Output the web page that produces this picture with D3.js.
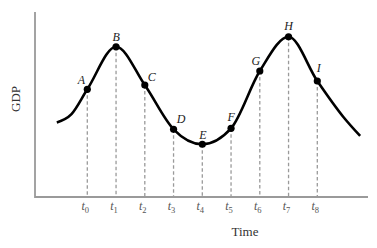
<!DOCTYPE html>
<html><head><meta charset="utf-8">
<script src="https://cdn.jsdelivr.net/npm/d3@7"></script>
<style>body{margin:0;background:#fff}svg{display:block}</style>
</head><body>
<svg id="c" width="377" height="248"></svg>
<script>
// Data
const pointLabels = ["A","B","C","D","E","F","G","H","I"];
const pointTimes  = [0,1,2,3,4,5,6,7,8];
const pointGDP    = [58.2,81.2,60.5,36.6,28.5,37.1,68.1,86.6,62.7];
const tickLabels  = ["0","1","2","3","4","5","6","7","8"];
// extra samples (time, GDP)
const curveTimes  = [-1.06,-0.55,0,1,2,3,4,5,6,7,8,8.9,9.49];
const curveGDP    = [40.3,44.8,58.2,81.2,60.5,36.6,28.5,37.1,68.1,86.6,62.7,43.4,33];

const svg = d3.select("#c");
const x = d3.scaleLinear().domain([0,8]).range([87.3,317.3]);
const y = d3.scaleLinear().domain([0,100]).range([197,12]);
const x0 = 35, x1 = 368;
const font = "'Liberation Serif','Times New Roman',serif";
const axisCol = "#9a9a9a";

// dashed drop lines
svg.selectAll("line.drop").data(pointTimes).enter().append("line")
  .attr("x1", d=>x(d)).attr("x2", d=>x(d))
  .attr("y1", (d,i)=>y(pointGDP[i])).attr("y2", y(0))
  .attr("stroke", axisCol).attr("stroke-width",1.3).attr("stroke-dasharray","3.5,2.5");

// axes
svg.append("path").attr("d", `M${x0},${y(100)}V${y(0)}H${x1}`)
  .attr("fill","none").attr("stroke",axisCol).attr("stroke-width",1.8);

// curve
const pts = curveTimes.map((t,i)=>[t,curveGDP[i]]);
svg.append("path").datum(pts)
  .attr("d", d3.line().x(d=>x(d[0])).y(d=>y(d[1])).curve(d3.curveMonotoneX))
  .attr("fill","none").attr("stroke","#000").attr("stroke-width",2.6);

// points
svg.selectAll("circle").data(pointTimes).enter().append("circle")
  .attr("cx", d=>x(d)).attr("cy",(d,i)=>y(pointGDP[i])).attr("r",3.6).attr("fill","#000");

// point labels
const off = {A:[-6,-5],B:[0,-6],C:[7,-4],D:[7.5,-6],E:[0.5,-5],F:[0,-7],G:[-4,-6],H:[0,-7],I:[1.5,-9]};
svg.selectAll("text.pl").data(pointLabels).enter().append("text")
  .attr("x",(d,i)=>x(pointTimes[i])+off[d][0]).attr("y",(d,i)=>y(pointGDP[i])+off[d][1])
  .attr("text-anchor","middle").attr("font-family",font).attr("font-style","italic")
  .attr("font-size",12).attr("fill","#222").text(d=>d);

// tick labels
const tl = svg.selectAll("text.tk").data(tickLabels).enter().append("text")
  .attr("x",(d,i)=>x(pointTimes[i])-2).attr("y",210)
  .attr("text-anchor","middle").attr("font-family",font).attr("fill","#555").attr("font-size",12);
tl.append("tspan").attr("font-style","italic").text("t");
tl.append("tspan").attr("font-size",8.5).attr("dy",3).text(d=>d);

// axis titles
svg.append("text").attr("x",245).attr("y",236).attr("text-anchor","middle")
  .attr("font-family",font).attr("font-size",13).attr("fill","#333").text("Time");
svg.append("text").attr("transform","translate(20,99) rotate(-90)").attr("text-anchor","middle")
  .attr("font-family",font).attr("font-size",13).attr("fill","#333").text("GDP");
</script>
</body></html>
